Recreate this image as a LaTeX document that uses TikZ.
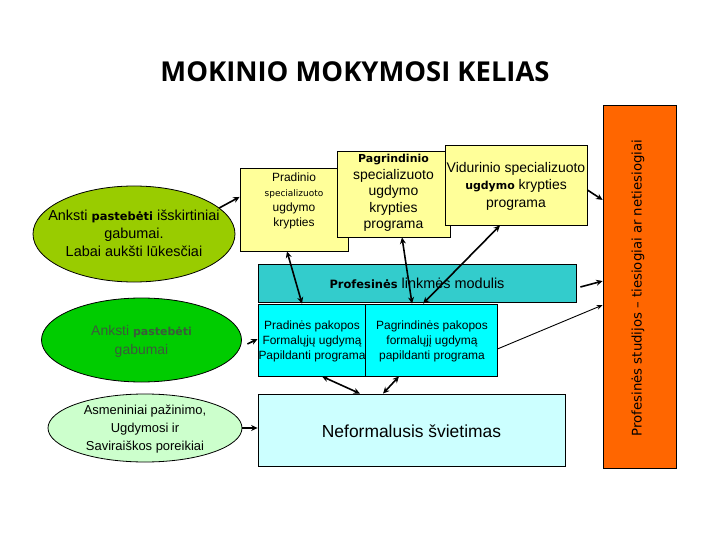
\documentclass[tikz,border=0pt]{standalone}
\usepackage{fontspec}
\setmainfont{Liberation Sans}
\newfontfamily\tah{DejaVu Sans}
\newfontfamily\titlef{Open Sans}
\usetikzlibrary{shapes.geometric,arrows.meta,calc}
\definecolor{olivegr}{RGB}{153,204,0}
\definecolor{brightgr}{RGB}{0,204,0}
\definecolor{palegr}{RGB}{204,255,204}
\definecolor{paleyel}{RGB}{255,255,153}
\definecolor{tealbox}{RGB}{51,204,204}
\definecolor{cyanbox}{RGB}{0,255,255}
\definecolor{palecyan}{RGB}{204,255,255}
\definecolor{orangebox}{RGB}{255,102,0}
\definecolor{gtext}{RGB}{60,90,60}
\newcommand{\fs}[2]{\fontsize{#1}{#2}\selectfont}
\newcommand{\tb}[1]{{\tah\bfseries\fontsize{11}{14}\selectfont #1}}
\tikzset{
  shapebox/.style={draw=black,line width=0.8bp,rectangle,inner sep=0pt},
  shapeell/.style={draw=black,line width=0.8bp,ellipse,inner sep=0pt},
  txt/.style={align=center,inner sep=0pt},
  conn/.style={line width=1.6bp,-{Stealth[length=6.5bp,width=6bp]}},
  dconn/.style={line width=1.6bp,{Stealth[length=6.5bp,width=6bp]}-{Stealth[length=6.5bp,width=6bp]}},
  thinconn/.style={line width=0.9bp,-{Stealth[length=6bp,width=5bp]}},
}
\begin{document}
\begin{tikzpicture}[x=1bp,y=-1bp]
\useasboundingbox (0,0) rectangle (720,540);
\fill[white] (0,0) rectangle (720,540);

% title
\node[txt,font={\titlef\bfseries\fs{27.5}{32}}] (title) at (355,72) {MOKINIO MOKYMOSI KELIAS};

% ellipses
\node[shapeell,fill=olivegr,minimum width=202bp,minimum height=96bp] (e1) at (134,234) {};
\node[txt,font={\fs{14.5}{18}}] (e1t) at (134,233) {Anksti {\tah\bfseries\fs{11.5}{14}pastebėti} išskirtiniai\\gabumai.\\Labai aukšti lūkesčiai};

\node[shapeell,fill=brightgr,minimum width=200bp,minimum height=84bp] (e2) at (141.5,340) {};
\node[txt,text=gtext,font={\fs{14}{19}}] (e2t) at (141.5,341) {Anksti \tb{pastebėti}\\gabumai};

\node[shapeell,fill=palegr,minimum width=194bp,minimum height=68bp] (e3) at (145,428) {};
\node[txt,font={\fs{13}{18}}] (e3t) at (145,429) {Asmeniniai pažinimo,\\Ugdymosi ir\\Saviraiškos poreikiai};

% yellow boxes
\node[shapebox,fill=paleyel,minimum width=108bp,minimum height=83bp] (prad) at (294,209.5) {};
\node[txt,font={\fs{12}{15}}] (pradt) at (294,200.5) {Pradinio\\{\tah\fs{9}{15}specializuoto}\\ugdymo\\krypties};

\node[shapebox,fill=paleyel,minimum width=113bp,minimum height=86bp] (pagr) at (393.5,194) {};
\node[txt,font={\fs{14}{16.5}}] (pagrt) at (393.5,193) {{\tah\bfseries\fs{11}{16.5}Pagrindinio}\\specializuoto\\ugdymo\\krypties\\programa};

\node[shapebox,fill=paleyel,minimum width=142bp,minimum height=80bp] (vid) at (516,185) {};
\node[txt,font={\fs{14}{17.5}}] (vidt) at (516,186) {Vidurinio specializuoto\\\tb{ugdymo} krypties\\programa};

% teal and cyan boxes
\node[shapebox,fill=tealbox,minimum width=318bp,minimum height=38bp] (modul) at (417,283) {};
\node[txt,font={\fs{14.5}{16}}] (modult) at (417,283) {{\tah\bfseries\fs{11.5}{14}Profesinės} linkmės modulis};

\node[shapebox,fill=cyanbox,minimum width=107bp,minimum height=72bp] (prad2) at (311.5,340) {};
\node[txt,font={\fs{12}{15}}] (prad2t) at (312,341) {Pradinės pakopos\\Formalųjų ugdymą\\Papildanti programa};

\node[shapebox,fill=cyanbox,minimum width=132bp,minimum height=72bp] (pagr2) at (431,340) {};
\node[txt,font={\fs{12}{15}}] (pagr2t) at (432,341) {Pagrindinės pakopos\\formalųjį ugdymą\\papildanti programa};

\node[shapebox,fill=palecyan,minimum width=307bp,minimum height=72bp] (neform) at (411.5,430) {};
\node[txt,font={\fs{17.5}{20}}] (neformt) at (411.5,431) {Neformalusis švietimas};

% orange box
\node[shapebox,fill=orangebox,minimum width=73bp,minimum height=363bp] (orange) at (639.5,286.5) {};
\node[txt,rotate=90,font={\tah\fs{13.3}{15}}] (oranget) at (638,288) {Profesinės studijos – tiesiogiai ar netiesiogiai};

% connectors
\draw[conn] (e1.17) -- ($(prad.north west)!0.35!(prad.south west)$);
\draw[dconn] ([xshift=-7bp]prad.south) -- ([xshift=-9.5bp]prad2.north);
\draw[dconn] ([xshift=8.5bp]pagr.south) -- ([xshift=-19bp]pagr2.north);
\draw[dconn] ([xshift=-8bp]pagr2.north) -- ([xshift=-16bp]vid.south);
\draw[conn] ([yshift=-5bp]vid.east) -- ($(orange.north west)!0.262!(orange.south west)$);
\coordinate (mstart) at ([xshift=4bp,yshift=-4bp]modul.east);
\draw[conn] (mstart) -- ($(orange.north west)!0.485!(orange.south west)$);
\draw[thinconn] ([yshift=-9bp]pagr2.east) -- ($(orange.north west)!0.551!(orange.south west)$);
\coordinate (e2start) at ([xshift=5.5bp,yshift=-4bp]e2.east);
\draw[conn] (e2start) -- ([yshift=1bp]prad2.west);
\draw[conn] (e3.east) -- (e3.east -| neform.west);
\draw[dconn] ([xshift=10.5bp]prad2.south) -- ([xshift=-51.5bp]neform.north);
\draw[dconn] ([xshift=-32bp]pagr2.south) -- ([xshift=-28.5bp]neform.north);
\end{tikzpicture}
\end{document}
